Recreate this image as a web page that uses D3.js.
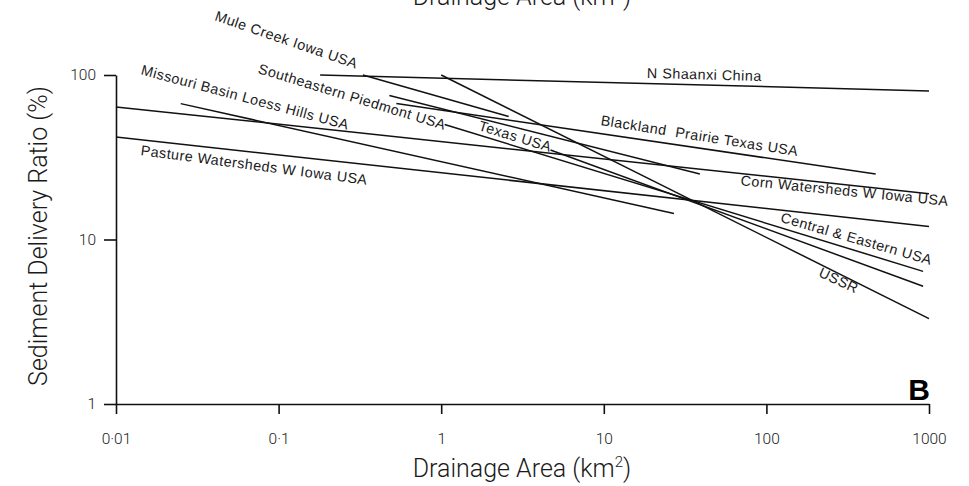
<!DOCTYPE html>
<html>
  <head>
    <script src="https://d3js.org/d3.v7.min.js"></script>
    <style>
      body { margin: 0; background: #fff; }
      text { font-family: "Liberation Sans", Arial, sans-serif; fill: #1a1a1a; }
      .title { font-family: Roboto, "Liberation Sans", sans-serif; font-weight: 300; font-size: 25px; }
      .lab { font-size: 14.3px; letter-spacing: 0.5px; white-space: pre; }
    </style>
  </head>
  <body>
    <svg id="chart" width="969" height="486"></svg>
    <script>
      // regression lines: start / end of each line (area km2, ratio %)
      var lineNames = [
        "N Shaanxi China",
        "Mule Creek Iowa USA",
        "USSR",
        "Corn Watersheds W Iowa USA",
        "Pasture Watersheds W Iowa USA",
        "Missouri Basin Loess Hills USA",
        "Blackland  Prairie Texas USA",
        "Southeastern Piedmont USA",
        "Central & Eastern USA",
        "Texas USA",
      ];
      var fromArea = [0.18, 0.33, 1, 0.01, 0.01, 0.025, 0.53, 0.48, 1.05, 4.7];
      var fromRatio = [100, 100, 100, 64, 42, 67, 67, 75, 50, 35];
      var toArea = [1000, 2.6, 1000, 1000, 1000, 27, 470, 39, 920, 920];
      var toRatio = [80, 56, 3.3, 19, 12, 14.4, 25, 25, 6.4, 5.2];

      // where each name is written (area, ratio) and its slant in degrees
      var labelArea = [18.4, 0.04, 207, 69, 0.0141, 0.0141, 9.5, 0.074, 121, 1.68];
      var labelRatio = [96, 216, 6.0, 21.4, 32.6, 101, 49.7, 103, 12.8, 46.3];
      var labelAngle = [1.5, 19, 25, 5.7, 7.5, 15, 9, 17, 16, 17];

      var xTicks = [0.01, 0.1, 1, 10, 100, 1000];
      var xTickLabels = ["0·01", "0·1", "1", "10", "100", "1000"];
      var yTicks = [1, 10, 100];
      var yTickLabels = ["1", "10", "100"];

      var svg = d3.select("#chart");

      var x = d3.scaleLog().domain([0.01, 1000]).range([116, 929]);
      var y = d3.scaleLog().domain([1, 100]).range([404, 75]);

      var xAxis = d3
        .axisBottom(x)
        .tickValues(xTicks)
        .tickFormat((d, i) => xTickLabels[i])
        .tickSize(10)
        .tickSizeOuter(0)
        .tickPadding(19);

      var yAxis = d3
        .axisLeft(y)
        .tickValues(yTicks)
        .tickFormat((d, i) => yTickLabels[i])
        .tickSize(12)
        .tickSizeOuter(0)
        .tickPadding(8);

      svg.append("g").attr("transform", "translate(0,404)").call(xAxis);
      svg.append("g").attr("transform", "translate(116,0)").call(yAxis);

      svg.selectAll(".domain, .tick line")
        .style("stroke", "#111")
        .style("stroke-width", "1.6px");
      svg.selectAll(".tick text")
        .style("font-family", "Roboto, 'Liberation Sans', sans-serif")
        .style("font-weight", "300")
        .style("font-size", "15.5px")
        .style("fill", "#1a1a1a");

      // lines
      var rows = lineNames.map((n, i) => [
        [fromArea[i], fromRatio[i]],
        [toArea[i], toRatio[i]],
      ]);
      var line = d3.line().x((d) => x(d[0])).y((d) => y(d[1]));

      svg.append("g")
        .selectAll("path")
        .data(rows)
        .enter()
        .append("path")
        .attr("d", line)
        .style("fill", "none")
        .style("stroke", "#111")
        .style("stroke-width", "1.5px");

      svg.append("g")
        .selectAll("text")
        .data(lineNames)
        .enter()
        .append("text")
        .attr("class", "lab")
        .attr("transform", (d, i) =>
          "translate(" + x(labelArea[i]) + "," + y(labelRatio[i]) + ") rotate(" + labelAngle[i] + ")"
        )
        .text((d) => d);

      // axis titles
      svg.append("text")
        .attr("class", "title")
        .attr("transform", "translate(47,236) rotate(-90)")
        .attr("text-anchor", "middle")
        .text("Sediment Delivery Ratio (%)");

      var xt = svg.append("text")
        .attr("class", "title")
        .attr("x", 522)
        .attr("y", 477)
        .attr("text-anchor", "middle");
      xt.append("tspan").text("Drainage Area (km");
      xt.append("tspan").attr("dy", -10).style("font-size", "15px").text("2");
      xt.append("tspan").attr("dy", 10).text(")");

      // title of the panel above, cut off at the top edge
      var tt = svg.append("text")
        .attr("class", "title")
        .attr("x", 522)
        .attr("y", 5)
        .attr("text-anchor", "middle");
      tt.append("tspan").text("Drainage Area (km");
      tt.append("tspan").attr("dy", -10).style("font-size", "15px").text("2");
      tt.append("tspan").attr("dy", 10).text(")");

      svg.append("text")
        .attr("x", 930)
        .attr("y", 400)
        .attr("text-anchor", "end")
        .style("font-weight", "bold")
        .style("font-size", "30px")
        .style("fill", "#000")
        .text("B");
    </script>
  </body>
</html>
